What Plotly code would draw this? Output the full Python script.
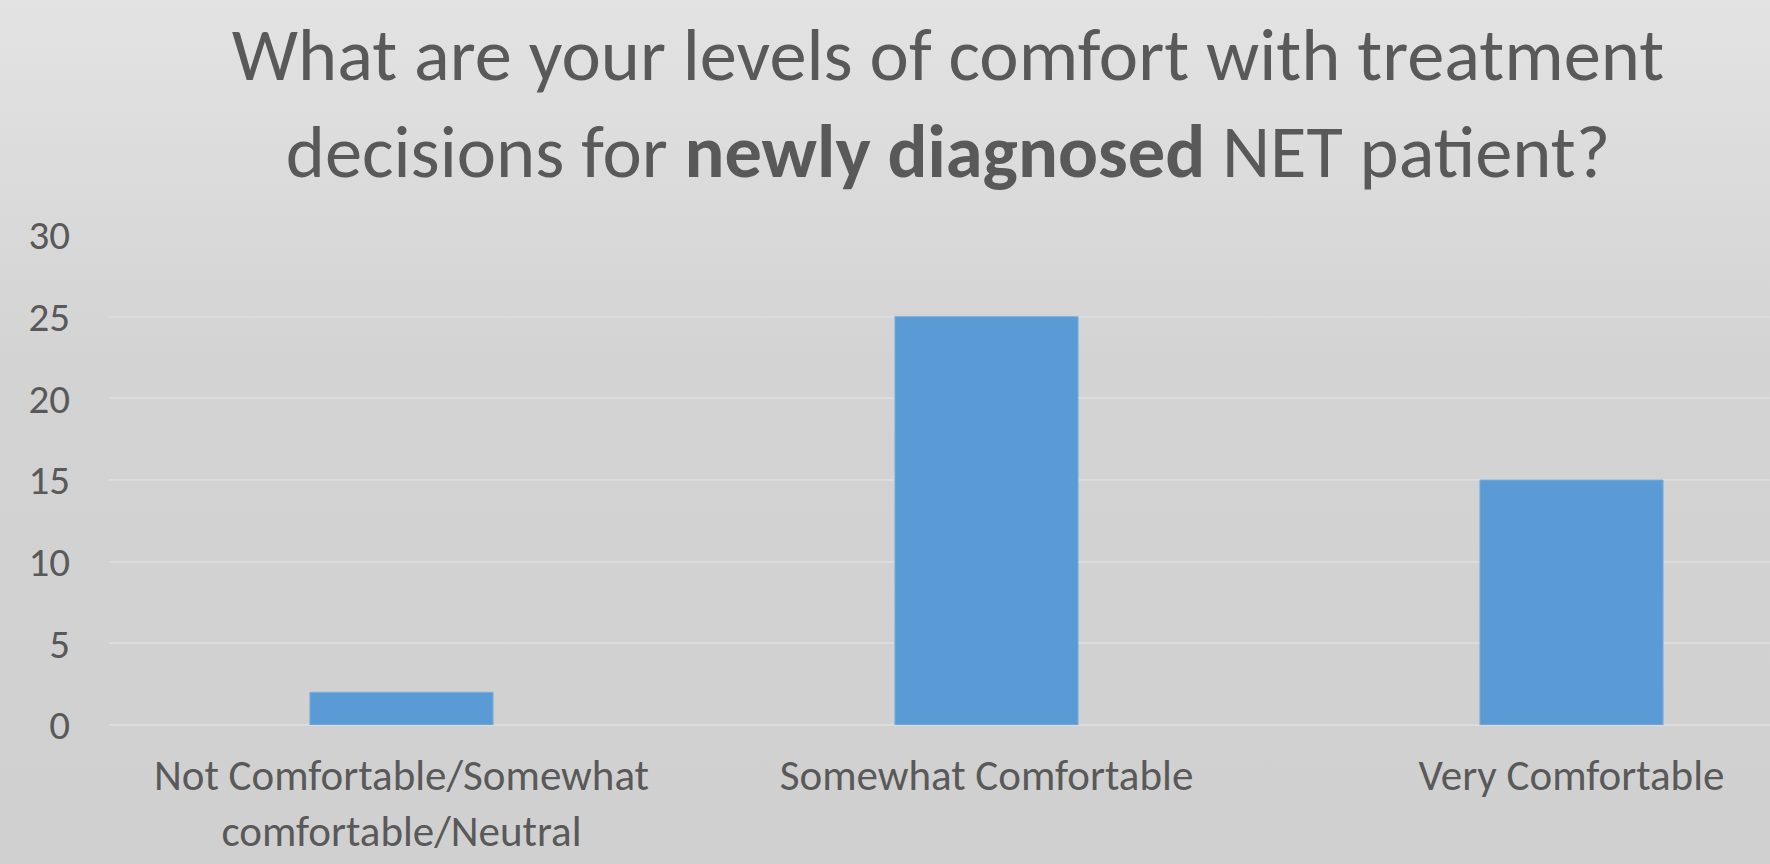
import base64
import plotly.graph_objects as go

# Survey responses
categories = [
    "Not Comfortable/Somewhat<br>comfortable/Neutral",
    "Somewhat Comfortable",
    "Very Comfortable",
]
counts = [2, 25, 15]
y_ticks = [0, 5, 10, 15, 20, 25, 30]

W, H = 1770, 864
M_L, M_R, M_T, M_B = 109, 0, 235, 139
plot_w = W - M_L - M_R
plot_h = H - M_T - M_B

FONT = "Carlito, Lato, 'Open Sans', sans-serif"
TEXT = "#595959"

# soft vertical grey gradient behind the whole chart
svg = f"""<svg xmlns='http://www.w3.org/2000/svg' width='{W}' height='{H}' preserveAspectRatio='none'>
<defs><linearGradient id='g' x1='0' y1='0' x2='0' y2='1'>
<stop offset='0' stop-color='#e3e3e3'/>
<stop offset='0.42' stop-color='#d3d3d3'/>
<stop offset='1' stop-color='#d0d0d0'/>
</linearGradient></defs>
<rect width='{W}' height='{H}' fill='url(#g)'/></svg>"""
bg_src = "data:image/svg+xml;base64," + base64.b64encode(svg.encode()).decode()

fig = go.Figure(
    go.Bar(
        x=categories,
        y=counts,
        marker=dict(color="#5b9bd5", line=dict(color="#7aaede", width=1)),
        width=0.313,
        hoverinfo="x+y",
    )
)

fig.update_layout(
    width=W,
    height=H,
    margin=dict(l=M_L, r=M_R, t=M_T, b=M_B, pad=0),
    paper_bgcolor="#d1d1d1",
    plot_bgcolor="rgba(0,0,0,0)",
    showlegend=False,
    font=dict(family=FONT, color=TEXT, size=40),
    title=dict(
        text="What are your levels of comfort with treatment<br>decisions for <b>newly diagnosed</b> NET patient?",
        font=dict(family=FONT, size=74.5, color=TEXT),
        x=948 / W,
        xref="container",
        xanchor="center",
        y=1 - 80 / H,
        yref="container",
        yanchor="top",
    ),
    images=[
        dict(
            source=bg_src,
            xref="paper",
            yref="paper",
            x=-M_L / plot_w,
            y=1 + M_T / plot_h,
            sizex=W / plot_w,
            sizey=H / plot_h,
            xanchor="left",
            yanchor="top",
            sizing="stretch",
            layer="below",
        )
    ],
    xaxis=dict(
        range=[-0.5, -0.5 + plot_w / 585],
        showgrid=False,
        zeroline=False,
        showline=False,
        ticks="",
        tickfont=dict(size=43, color=TEXT),
        ticklabelstandoff=21,
        fixedrange=True,
    ),
    yaxis=dict(
        range=[0, 30],
        tickvals=y_ticks,
        showgrid=True,
        gridcolor="#dcdcdc",
        gridwidth=1.5,
        zeroline=True,
        zerolinecolor="#dcdcdc",
        zerolinewidth=1.5,
        showline=False,
        ticks="",
        tickfont=dict(size=41, color=TEXT),
        ticklabelstandoff=38,
        fixedrange=True,
    ),
)

fig.write_html("out.html")
